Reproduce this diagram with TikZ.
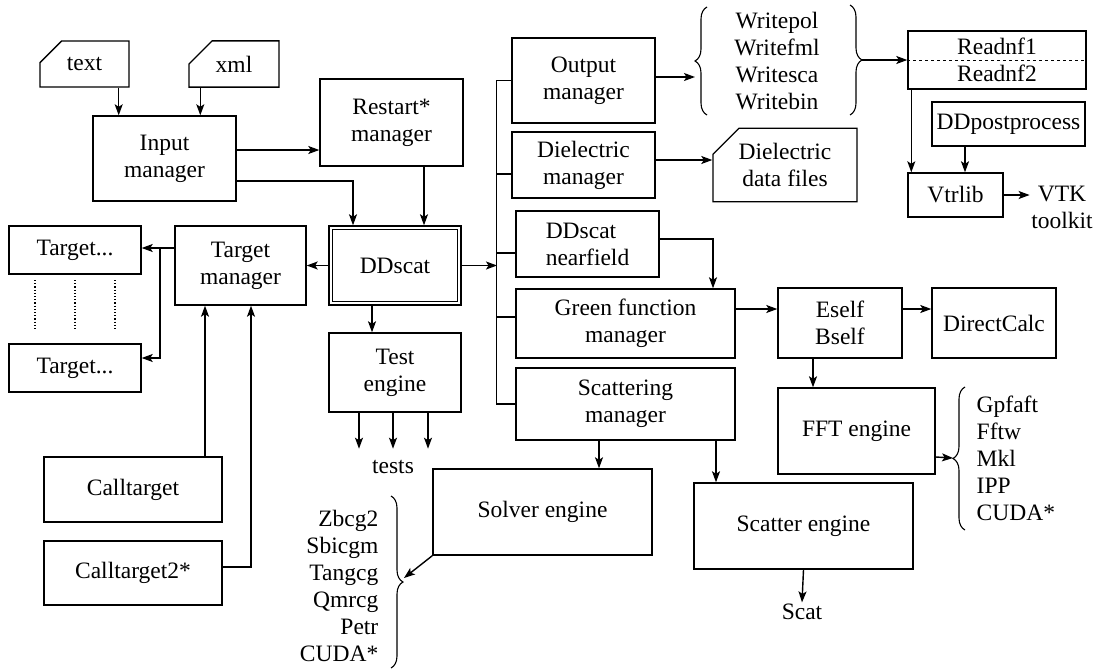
\documentclass[tikz,border=0pt]{standalone}
\usepackage{fontspec}
\setmainfont{Liberation Serif}
\usetikzlibrary{arrows.meta,shapes.misc,decorations.pathreplacing}
\begin{document}
\begin{tikzpicture}[x=1pt, y=-1pt, line width=1.4pt,
  node font=\fontsize{23.5}{27}\selectfont,
  box/.style={draw, rectangle, align=center, inner sep=2pt},
  filebox/.style={draw, chamfered rectangle, chamfered rectangle corners=north west,
    chamfered rectangle xsep=13pt, chamfered rectangle ysep=13pt, align=center, inner sep=2pt},
  lbl/.style={align=center, inner sep=1pt},
  arr/.style={-{Stealth[length=11pt,width=8pt,inset=2.5pt]}},
  brc/.style={decorate, decoration={brace, amplitude=12pt}, line width=1.1pt}]
\useasboundingbox (0,0) rectangle (1119,670);
\node[filebox, minimum width=89pt, minimum height=46pt] (txt) at (84.5,64) {text};
\node[filebox, minimum width=90pt, minimum height=46pt] (xml) at (234,64) {xml};
\node[box, minimum width=143pt, minimum height=85pt] (inp) at (164.5,158.5) {Input\\manager};
\node[box, minimum width=143pt, minimum height=87pt] (rst) at (391.5,122.5) {Restart*\\manager};
\node[box, minimum width=132pt, minimum height=79pt] (dds) at (395,265.5) {DDscat};
\draw ([shift={(4pt,-4pt)}]dds.north west) rectangle ([shift={(-4pt,4pt)}]dds.south east);
\node[box, minimum width=132pt, minimum height=79pt] (tst) at (395,372.5) {Test\\engine};
\node[lbl] (tests) at (393,467) {tests};
\node[box, minimum width=131pt, minimum height=79pt] (tgm) at (240.5,265.5) {Target\\manager};
\node[box, minimum width=132pt, minimum height=48pt] (tg1) at (75,250) {Target...};
\node[box, minimum width=132pt, minimum height=48pt] (tg2) at (75,368) {Target...};
\node[box, minimum width=178pt, minimum height=65pt] (clt) at (133,489.5) {Calltarget};
\node[box, minimum width=178pt, minimum height=64pt] (clt2) at (133,573) {Calltarget2*};
\node[box, minimum width=143pt, minimum height=85pt] (out) at (583.5,80.5) {Output\\manager};
\node[box, minimum width=143pt, minimum height=66pt] (diel) at (583.5,165) {Dielectric\\manager};
\node[box, minimum width=143pt, minimum height=66pt, align=left] (nfd) at (587.5,244) {DDscat\\nearfield};
\node[box, minimum width=219pt, minimum height=69pt] (gfm) at (625.5,323.5) {Green function\\manager};
\node[box, minimum width=219pt, minimum height=72pt] (scm) at (625.5,404) {Scattering\\manager};
\node[box, minimum width=219pt, minimum height=86pt] (sol) at (542.5,512) {Solver engine};
\node[box, minimum width=219pt, minimum height=86pt] (sce) at (803.5,526) {Scatter engine};
\node[lbl] (scat) at (802,612) {Scat};
\node[box, minimum width=157pt, minimum height=86pt] (fft) at (856.5,431) {FFT engine};
\node[box, minimum width=124pt, minimum height=70pt] (esb) at (840,323) {Eself\\Bself};
\node[box, minimum width=124pt, minimum height=70pt] (dcalc) at (994,323) {DirectCalc};
\node[filebox, minimum width=144pt, minimum height=66pt] (dfil) at (785,165) {Dielectric\\data files};
\node[box, minimum width=178pt, minimum height=58pt] (rnf) at (997,60) {Readnf1\\Readnf2};
\draw[dashed, line width=1pt] (rnf.west) -- (rnf.east);
\node[box, minimum width=153pt, minimum height=44pt] (ddp) at (1008.5,124) {DDpostprocess};
\node[box, minimum width=95pt, minimum height=44pt] (vtr) at (955.5,195) {Vtrlib};
\node[lbl] (vtk) at (1062,207) {VTK\\toolkit};
\node[lbl] (wrt) at (777,61) {Writepol\\Writefml\\Writesca\\Writebin};
\node[lbl, align=left, anchor=west] (ffl) at (975,458) {Gpfaft\\Fftw\\Mkl\\IPP\\CUDA*};
\node[lbl, align=right, anchor=east] (sll) at (380,586) {Zbcg2\\Sbicgm\\Tangcg\\Qmrcg\\Petr\\CUDA*};
\draw[brc] (707,115) -- (707,7);
\draw[brc] (850,5) -- (850,115);
\draw[brc] (965,530) -- (965,387);
\draw[brc] (391,496) -- (391,668);
\coordinate (wbl) at (695,77);
\coordinate (wbr) at (862,60);
\coordinate (fftbr) at (953,458);
\coordinate (solbr) at (404,578);
\coordinate (bus) at (497,80);
\coordinate (tgj) at (160,248);
\draw[arr] ([xshift=-11pt]txt.south east) -- ([xshift=-11pt]txt.south east |- inp.north);
\draw[arr] ([xshift=12pt]xml.south west) -- ([xshift=12pt]xml.south west |- inp.north);
\draw[arr] ([yshift=8.5pt]inp.east) -- ([yshift=8.5pt]inp.east -| rst.west);
\draw[arr] ([yshift=-22.5pt]inp.east) -| ([xshift=-42pt]dds.north);
\draw[arr] ([xshift=32.5pt]rst.south) -- ([xshift=32.5pt]rst.south |- dds.north);
\draw[arr] (dds.west) -- (tgm.east);
\draw[arr] (dds.east) -- (dds.east -| bus);
\draw (out.west) -| ([xshift=-19pt]scm.west) -- (scm.west);
\draw ([yshift=-9pt]diel.west) -- ++(-15pt,0);
\draw ([yshift=-9pt]nfd.west) -- ++(-19pt,0);
\draw ([yshift=6.5pt]gfm.west) -- ++(-19pt,0);
\draw[arr] ([xshift=-23pt]dds.south) -- ([xshift=-23pt]dds.south |- tst.north);
\foreach \dx in {-36,-2,33} \draw[arr] ([xshift=\dx pt]tst.south) -- ++(0,-36pt);
\draw[arr] ([yshift=17.5pt]tgm.west) -- ([yshift=17.5pt]tgm.west -| tg1.east);
\draw[arr] (tgj) |- ([yshift=10pt]tg2.east);
\foreach \x in {35,75,115} \draw[dotted, line width=1.2pt] (\x,280) -- (\x,330);
\draw[arr] ([xshift=-35.5pt]tgm.south |- clt.north) -- ([xshift=-35.5pt]tgm.south);
\draw[arr] ([yshift=6pt]clt2.east) -| ([xshift=10.5pt]tgm.south);
\draw[arr] ([yshift=3.5pt]out.east) -- (wbl);
\draw[arr] ([yshift=5pt]diel.east) -- ([yshift=5pt]diel.east -| dfil.west);
\draw[arr] (wbr) -- (wbr -| rnf.west);
\draw[arr] ([xshift=4pt]rnf.south west) -- ([xshift=4pt]rnf.south west |- vtr.north);
\draw[arr] ([xshift=-43.5pt]ddp.south) -- ([xshift=-43.5pt]ddp.south |- vtr.north);
\draw[arr] (vtr.east) -- (vtr.east -| vtk.west);
\draw[arr] ([yshift=5pt]nfd.east) -| ([xshift=87.5pt]gfm.north);
\draw[arr] ([yshift=14.5pt]gfm.east) -- ([yshift=14.5pt]gfm.east -| esb.west);
\draw[arr] ([yshift=14pt]esb.east) -- ([yshift=14pt]esb.east -| dcalc.west);
\draw[arr] ([xshift=-27pt]esb.south) -- ([xshift=-27pt]esb.south |- fft.north);
\draw[arr] ([yshift=-26pt]fft.east) -- (fftbr);
\draw[arr] ([xshift=-26.5pt]scm.south) -- ([xshift=-26.5pt]scm.south |- sol.north);
\draw[arr] ([xshift=90.5pt]scm.south) -- ([xshift=90.5pt]scm.south |- sce.north);
\draw[arr] (sce.south) -- (scat.north);
\draw[arr] (sol.south west) -- (solbr);
\end{tikzpicture}
\end{document}
